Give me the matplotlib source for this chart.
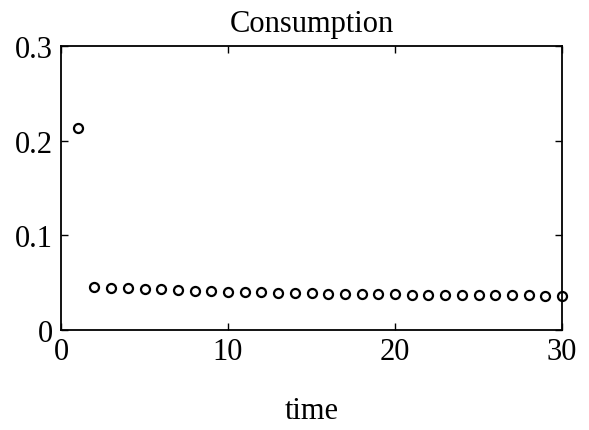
import matplotlib
matplotlib.use("Agg")
import matplotlib.pyplot as plt

time = list(range(1, 31))
consumption = [0.213, 0.045, 0.0445, 0.044, 0.0435, 0.043, 0.042, 0.0415, 0.041, 0.0405,
               0.040, 0.0398, 0.0395, 0.039, 0.0388, 0.0385, 0.0383, 0.038, 0.0378, 0.0376,
               0.0374, 0.0372, 0.037, 0.0369, 0.0368, 0.0367, 0.0366, 0.0365, 0.0364, 0.0364]
xticks = [0, 10, 20, 30]
yticks = [0, 0.1, 0.2, 0.3]
yticklabels = ["0", "0.1", "0.2", "0.3"]

plt.rcParams['font.family'] = ['Liberation Serif', 'DejaVu Serif']

fig = plt.figure(figsize=(5.89, 4.31), dpi=100)
ax = fig.add_axes([61/589, 1-331/431, (562-61)/589, (331-47)/431])
ax.plot(time, consumption, linestyle='none', marker='o', markersize=6.5,
        markerfacecolor='none', markeredgecolor='black', markeredgewidth=1.6, clip_on=False)
ax.set_xlim(0, 30)
ax.set_ylim(0, 0.3)
ax.set_xticks(xticks)
ax.set_xticklabels([str(v) for v in xticks])
ax.set_yticks(yticks)
ax.set_yticklabels(yticklabels)
ax.tick_params(direction='in', top=True, right=True, labelsize=22, length=5, width=1)
ax.tick_params(axis='x', pad=5)
ax.tick_params(axis='y', pad=6)
for s in ax.spines.values():
    s.set_linewidth(1.3)
ax.set_title("Consumption", fontsize=22, pad=11)
ax.set_xlabel("time", fontsize=22, labelpad=22)
fig.savefig("out.png", dpi=100)
